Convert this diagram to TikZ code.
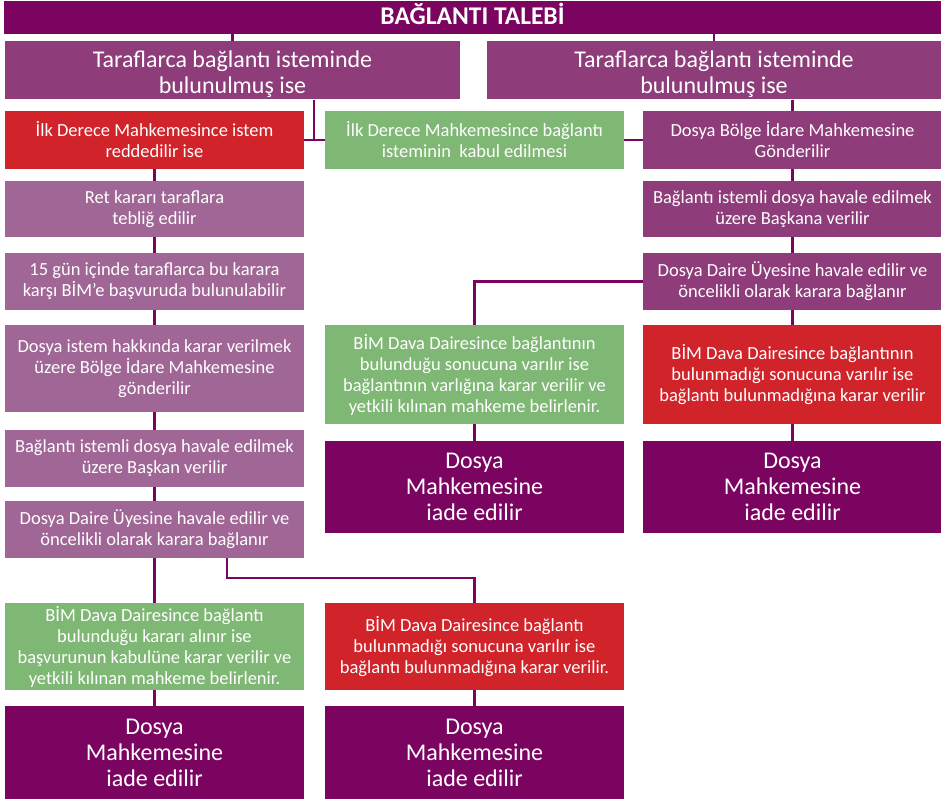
\documentclass[tikz,border=0pt]{standalone}
\usepackage{fontspec}
\setmainfont{Carlito}
\definecolor{koyu}{RGB}{123,4,97}
\definecolor{mor}{RGB}{142,60,122}
\definecolor{acikmor}{RGB}{160,103,150}
\definecolor{kirmizi}{RGB}{208,35,42}
\definecolor{yesil}{RGB}{127,183,116}
\begin{document}
\begin{tikzpicture}[x=1pt, y=-1pt,
kutu/.style={rectangle, inner sep=0pt, text=white, align=center,
font=\fontsize{18.5}{21}\selectfont, minimum width=299pt},
buyuk/.style={kutu, font=\fontsize{24}{26}\selectfont},
baslik/.style={kutu, font=\fontsize{25.5}{26}\selectfont\bfseries, fill=koyu},
iade/.style={buyuk, fill=koyu},
link/.style={draw=koyu, line width=2.6pt}
]
\useasboundingbox (0,0) rectangle (941,799);

\node [baslik, minimum width=937pt, minimum height=33pt] (talep) at (472.5,17.5) {BAĞLANTI TALEBİ\rule[-7pt]{0pt}{7pt}};
\node [buyuk, fill=mor, minimum width=455pt, minimum height=58pt] (tarafl) at (232.5,70.5) {\rule{0pt}{25pt}Taraflarca bağlantı isteminde\\bulunulmuş ise};
\node [buyuk, fill=mor, minimum width=454pt, minimum height=58pt] (tarafr) at (714,70.5) {\rule{0pt}{25pt}Taraflarca bağlantı isteminde\\bulunulmuş ise};

% ikinci sira
\node [kutu, fill=kirmizi, minimum height=58pt] (red) at (154.5,140) {İlk Derece Mahkemesince istem\\reddedilir ise};
\node [kutu, fill=yesil, minimum height=58pt] (kabul) at (474.5,140) {İlk Derece Mahkemesince bağlantı\\isteminin\ \ kabul edilmesi};
\node [kutu, fill=mor, minimum height=58pt] (bolge) at (792.5,140) {Dosya Bölge İdare Mahkemesine\\Gönderilir};

% sol sutun
\node [kutu, fill=acikmor, minimum height=56pt] (teblig) at (154.5,209) {Ret kararı taraflara\\tebliğ edilir};
\node [kutu, fill=acikmor, minimum height=57pt] (basvuru) at (154.5,281.5) {15 gün içinde taraflarca bu karara\\karşı BİM’e başvuruda bulunulabilir};
\node [kutu, fill=acikmor, minimum height=87pt] (gonder) at (154.5,368.5) {Dosya istem hakkında karar verilmek\\üzere Bölge İdare Mahkemesine\\gönderilir};
\node [kutu, fill=acikmor, minimum height=57pt] (baskanl) at (154.5,458.5) {Bağlantı istemli dosya havale edilmek\\üzere Başkan verilir};
\node [kutu, fill=acikmor, minimum height=57pt] (uyel) at (154.5,529.5) {Dosya Daire Üyesine havale edilir ve\\öncelikli olarak karara bağlanır};
\node [kutu, fill=yesil, minimum height=87pt] (varl) at (154.5,646.5) {BİM Dava Dairesince bağlantı\\bulunduğu kararı alınır ise\\başvurunun kabulüne karar verilir ve\\yetkili kılınan mahkeme belirlenir.};
\node [iade, minimum height=93pt] (iade1) at (154.5,752.5) {Dosya\\Mahkemesine\\iade edilir};

% orta sutun
\node [kutu, fill=yesil, minimum height=99pt] (varm) at (474.5,374.5) {BİM Dava Dairesince bağlantının\\bulunduğu sonucuna varılır ise\\bağlantının varlığına karar verilir ve\\yetkili kılınan mahkeme belirlenir.};
\node [iade, minimum height=92pt] (iade2) at (474.5,487) {Dosya\\Mahkemesine\\iade edilir};
\node [kutu, fill=kirmizi, minimum height=87pt] (yokm) at (474.5,646.5) {BİM Dava Dairesince bağlantı\\bulunmadığı sonucuna varılır ise\\bağlantı bulunmadığına karar verilir.};
\node [iade, minimum height=93pt] (iade3) at (474.5,752.5) {Dosya\\Mahkemesine\\iade edilir};

% sag sutun
\node [kutu, fill=mor, minimum height=56pt] (baskanr) at (792.5,209) {Bağlantı istemli dosya havale edilmek\\üzere Başkana verilir};
\node [kutu, fill=mor, minimum height=57pt] (uyer) at (792.5,281.5) {Dosya Daire Üyesine havale edilir ve\\öncelikli olarak karara bağlanır};
\node [kutu, fill=kirmizi, minimum height=99pt] (yokr) at (792.5,374.5) {BİM Dava Dairesince bağlantının\\bulunmadığı sonucuna varılır ise\\bağlantı bulunmadığına karar verilir};
\node [iade, minimum height=92pt] (iade4) at (792.5,487) {Dosya\\Mahkemesine\\iade edilir};

\coordinate (kol) at (314,140);
\coordinate (dal) at (227,578);

% baglantilar
\draw [link] (tarafl.north) -- (tarafl.north |- talep.south);
\draw [link] (tarafr.north) -- (tarafr.north |- talep.south);
\draw [link] (tarafl.south -| kol) -- (kol);
\draw [link] (red.east) -- (kabul.west);
\draw [link] (kabul.east) -- (bolge.west);
\draw [link] (tarafr.south -| bolge) -- (bolge.north);
\foreach \a/\b in {red/teblig, teblig/basvuru, basvuru/gonder, gonder/baskanl, baskanl/uyel, uyel/varl, varl/iade1,
  bolge/baskanr, baskanr/uyer, uyer/yokr, yokr/iade4, varm/iade2, yokm/iade3}
  \draw [link] (\a.south) -- (\b.north);
\draw [link] (uyer.west) -| (varm.north);
\draw [link] (uyel.south -| dal) -- (dal) -| (yokm.north);
\end{tikzpicture}
\end{document}
